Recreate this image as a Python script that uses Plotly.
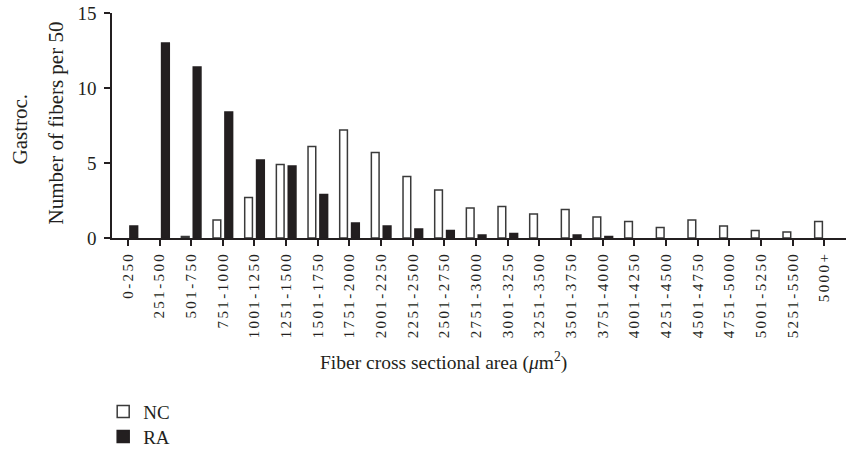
import plotly.graph_objects as go

categories = ["0-250", "251-500", "501-750", "751-1000", "1001-1250", "1251-1500",
              "1501-1750", "1751-2000", "2001-2250", "2251-2500", "2501-2750",
              "2751-3000", "3001-3250", "3251-3500", "3501-3750", "3751-4000",
              "4001-4250", "4251-4500", "4501-4750", "4751-5000", "5001-5250",
              "5251-5500", "5000+"]
nc_values = [0, 0, 0.1, 1.2, 2.7, 4.9, 6.1, 7.2, 5.7, 4.1, 3.2, 2.0, 2.1, 1.6, 1.9,
             1.4, 1.1, 0.7, 1.2, 0.8, 0.5, 0.4, 1.1]
ra_values = [0.8, 13.0, 11.4, 8.4, 5.2, 4.8, 2.9, 1.0, 0.8, 0.6, 0.5, 0.2, 0.3, 0, 0.2,
             0.1, 0, 0, 0, 0, 0, 0, 0]
y_ticks = [0, 5, 10, 15]

INK = "#231f20"
SERIF = "Liberation Serif, Times New Roman, serif"


def drawn(values):
    # empty bins are not drawn as bars (no outline at the baseline)
    return [v if v > 0 else None for v in values]


fig = go.Figure()
fig.add_trace(go.Bar(name="NC", x=categories, y=drawn(nc_values), legend="legend",
                     marker=dict(color="white", line=dict(color="#3a3a3a", width=1.5))))
fig.add_trace(go.Bar(name="RA", x=categories, y=drawn(ra_values), legend="legend2",
                     marker=dict(color=INK, line=dict(color=INK, width=1.5))))

legend_style = dict(x=-0.012, xanchor="left", yanchor="middle",
                    font=dict(family=SERIF, size=19, color=INK),
                    bgcolor="rgba(0,0,0,0)", borderwidth=0)

fig.update_layout(
    width=846, height=449,
    margin=dict(l=112, r=0, t=13, b=211, pad=0, autoexpand=False),
    paper_bgcolor="white", plot_bgcolor="white",
    barmode="group", bargap=0.25, bargroupgap=0.35,
    font=dict(family=SERIF, color=INK),
    showlegend=True,
    legend=dict(y=(238.3 - 412) / 225, **legend_style),
    legend2=dict(y=(238.3 - 437) / 225, **legend_style),
    xaxis=dict(type="category", range=[-0.5, 22.68],
               tickangle=-90, tickfont=dict(family=SERIF, size=15, color=INK),
               ticks="outside", ticklen=6, tickwidth=1.5, tickcolor=INK,
               showline=True, linecolor=INK, linewidth=1.5, automargin=False,
               showgrid=False, zeroline=False, fixedrange=True),
    yaxis=dict(range=[0, 15], tickmode="array", tickvals=y_ticks,
               tickfont=dict(family=SERIF, size=19, color=INK),
               ticks="outside", ticklen=6, tickwidth=1.5, tickcolor=INK,
               ticklabelstandoff=4, automargin=False,
               showline=True, linecolor=INK, linewidth=1.5,
               showgrid=False, zeroline=False, fixedrange=True),
    annotations=[
        dict(text="Gastroc.", xref="paper", yref="paper", x=0, y=0.5,
             xshift=-93, yshift=-4, xanchor="center", yanchor="middle",
             textangle=-90, showarrow=False,
             font=dict(family=SERIF, size=21, color=INK)),
        dict(text="Number of fibers per 50", xref="paper", yref="paper", x=0, y=0.5,
             xshift=-57, yshift=2, xanchor="center", yanchor="middle",
             textangle=-90, showarrow=False,
             font=dict(family=SERIF, size=21, color=INK)),
        dict(text="Fiber cross sectional area (<i>μ</i>m<sup>2</sup>)",
             xref="paper", yref="paper", x=(443.5 - 112) / 734, y=0,
             yshift=-123, xanchor="center", yanchor="middle", showarrow=False,
             font=dict(family=SERIF, size=19.5, color=INK)),
    ],
)

spacing_js = (
    "var s=document.createElement('style');"
    "s.textContent='g.xtick text{letter-spacing:2.4px !important;}';"
    "document.head.appendChild(s);"
    "document.querySelectorAll('g.xtick text').forEach(function(t){"
    "t.setAttribute('letter-spacing','2.4');t.style.letterSpacing='2.4px';});"
)
fig.write_html("out.html", post_script=spacing_js)
